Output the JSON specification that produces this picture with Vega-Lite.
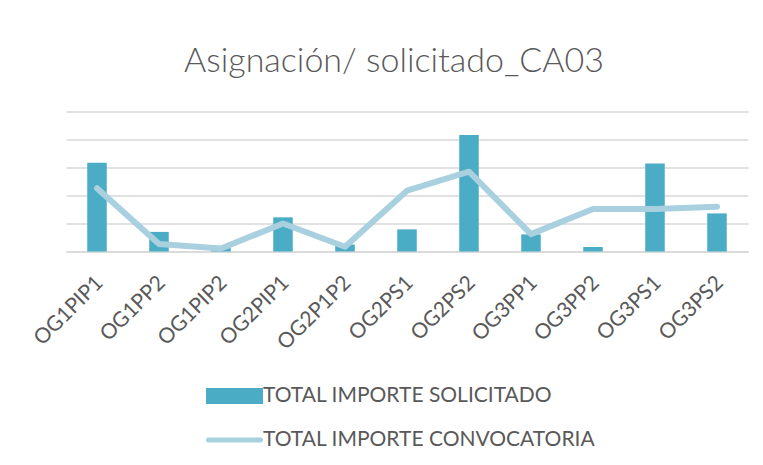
{
  "$schema": "https://vega.github.io/schema/vega-lite/v6.json",
  "width": 682,
  "height": 140,
  "autosize": {"type": "none"},
  "padding": {"left": 66, "top": 111.5, "right": 15, "bottom": 213.5},
  "background": "white",
  "title": {
    "text": "Asignación/ solicitado_CA03",
    "font": "Lato",
    "fontSize": 34,
    "fontWeight": 300,
    "color": "#595959",
    "anchor": "middle",
    "baseline": "alphabetic",
    "dx": -13,
    "offset": 6
  },
  "config": {
    "view": {"stroke": null},
    "axis": {"labelFont": "Lato", "titleFont": "Lato"}
  },
  "data": {
    "values": [
      {"cat": "OG1PIP1", "serie": "TOTAL IMPORTE SOLICITADO", "valor": 3.17},
      {"cat": "OG1PP2", "serie": "TOTAL IMPORTE SOLICITADO", "valor": 0.70},
      {"cat": "OG1PIP2", "serie": "TOTAL IMPORTE SOLICITADO", "valor": 0.12},
      {"cat": "OG2PIP1", "serie": "TOTAL IMPORTE SOLICITADO", "valor": 1.22},
      {"cat": "OG2P1P2", "serie": "TOTAL IMPORTE SOLICITADO", "valor": 0.25},
      {"cat": "OG2PS1", "serie": "TOTAL IMPORTE SOLICITADO", "valor": 0.79},
      {"cat": "OG2PS2", "serie": "TOTAL IMPORTE SOLICITADO", "valor": 4.16},
      {"cat": "OG3PP1", "serie": "TOTAL IMPORTE SOLICITADO", "valor": 0.61},
      {"cat": "OG3PP2", "serie": "TOTAL IMPORTE SOLICITADO", "valor": 0.16},
      {"cat": "OG3PS1", "serie": "TOTAL IMPORTE SOLICITADO", "valor": 3.14},
      {"cat": "OG3PS2", "serie": "TOTAL IMPORTE SOLICITADO", "valor": 1.36},
      {"cat": "OG1PIP1", "serie": "TOTAL IMPORTE CONVOCATORIA", "valor": 2.26},
      {"cat": "OG1PP2", "serie": "TOTAL IMPORTE CONVOCATORIA", "valor": 0.27},
      {"cat": "OG1PIP2", "serie": "TOTAL IMPORTE CONVOCATORIA", "valor": 0.11},
      {"cat": "OG2PIP1", "serie": "TOTAL IMPORTE CONVOCATORIA", "valor": 1.0},
      {"cat": "OG2P1P2", "serie": "TOTAL IMPORTE CONVOCATORIA", "valor": 0.17},
      {"cat": "OG2PS1", "serie": "TOTAL IMPORTE CONVOCATORIA", "valor": 2.17},
      {"cat": "OG2PS2", "serie": "TOTAL IMPORTE CONVOCATORIA", "valor": 2.85},
      {"cat": "OG3PP1", "serie": "TOTAL IMPORTE CONVOCATORIA", "valor": 0.62},
      {"cat": "OG3PP2", "serie": "TOTAL IMPORTE CONVOCATORIA", "valor": 1.52},
      {"cat": "OG3PS1", "serie": "TOTAL IMPORTE CONVOCATORIA", "valor": 1.52},
      {"cat": "OG3PS2", "serie": "TOTAL IMPORTE CONVOCATORIA", "valor": 1.6}
    ]
  },
  "encoding": {
    "x": {
      "field": "cat",
      "type": "nominal",
      "sort": ["OG1PIP1", "OG1PP2", "OG1PIP2", "OG2PIP1", "OG2P1P2", "OG2PS1", "OG2PS2", "OG3PP1", "OG3PP2", "OG3PS1", "OG3PS2"],
      "scale": {"paddingInner": 0.685, "paddingOuter": 0.3425},
      "axis": {
        "title": null,
        "labelAngle": -45,
        "labelAlign": "right",
        "labelBaseline": "middle",
        "labelFontSize": 21,
        "labelColor": "#595959",
        "labelPadding": 28,
        "labelOffset": 3,
        "ticks": false,
        "domainColor": "#d9d9d9",
        "domainWidth": 1.5,
        "grid": false,
        "zindex": 0
      }
    },
    "y": {
      "field": "valor",
      "type": "quantitative",
      "scale": {"domain": [0, 5], "nice": false},
      "axis": {
        "title": null,
        "labels": false,
        "ticks": false,
        "domain": false,
        "grid": true,
        "gridColor": "#d9d9d9",
        "gridWidth": 1.5,
        "values": [0, 1, 2, 3, 4, 5]
      }
    },
    "color": {
      "field": "serie",
      "type": "nominal",
      "scale": {
        "domain": ["TOTAL IMPORTE SOLICITADO", "TOTAL IMPORTE CONVOCATORIA"],
        "range": ["#4bacc6", "#a9d0de"]
      },
      "legend": {
        "orient": "none",
        "legendX": 156,
        "legendY": 272,
        "direction": "vertical",
        "title": null,
        "symbolSize": 400,
        "labelFont": "Lato",
        "labelFontSize": 21,
        "labelColor": "#595959",
        "labelLimit": 0,
        "labelOffset": 16,
        "rowPadding": 16,
        "encode": {
          "symbols": {
            "update": {
              "shape": {"signal": "datum.value === 'TOTAL IMPORTE SOLICITADO' ? 'M-2.6,-0.55H2.6V0.55H-2.6Z' : 'M-2.6,0H2.6'"},
              "fill": {"signal": "datum.value === 'TOTAL IMPORTE SOLICITADO' ? '#4bacc6' : 'transparent'"},
              "stroke": {"signal": "datum.value === 'TOTAL IMPORTE SOLICITADO' ? 'transparent' : '#a9d0de'"},
              "strokeWidth": {"value": 5},
              "strokeCap": {"value": "round"},
              "opacity": {"value": 1}
            }
          }
        }
      }
    }
  },
  "layer": [
    {
      "transform": [{"filter": "datum.serie === 'TOTAL IMPORTE SOLICITADO'"}],
      "mark": {"type": "bar"}
    },
    {
      "transform": [{"filter": "datum.serie === 'TOTAL IMPORTE CONVOCATORIA'"}],
      "mark": {"type": "line", "strokeWidth": 6, "strokeCap": "round", "strokeJoin": "round"}
    }
  ]
}
